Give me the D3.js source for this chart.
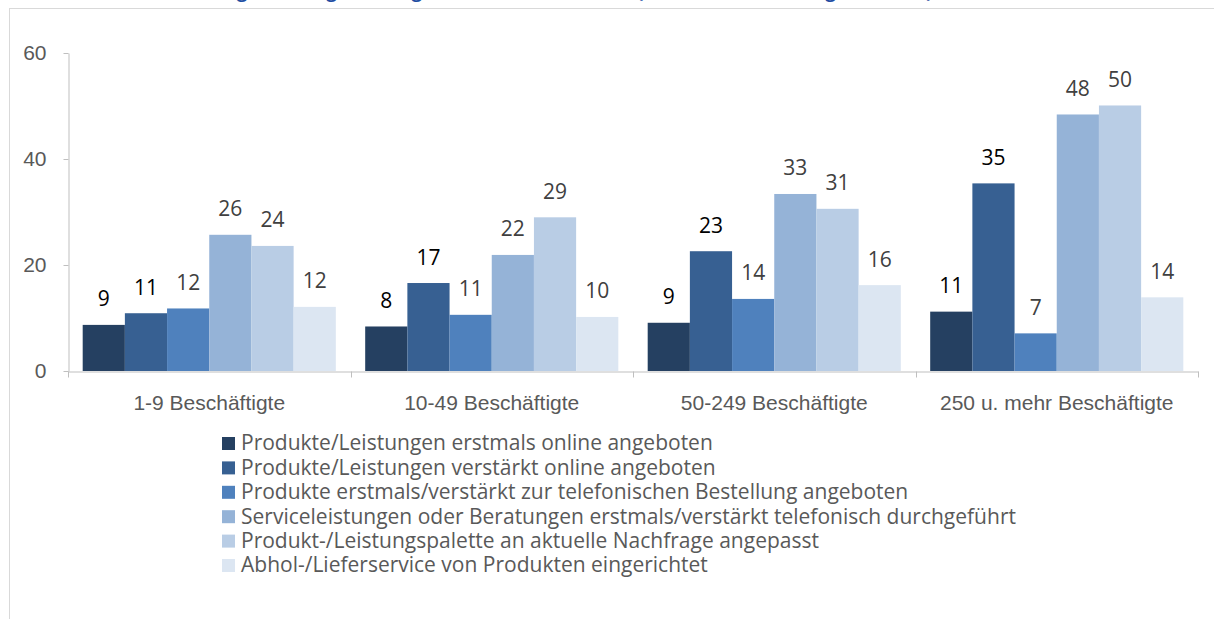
<!DOCTYPE html>
<html lang="de">
<head>
<meta charset="utf-8">
<script src="https://cdn.jsdelivr.net/npm/d3@7"></script>
<style>
  body { margin: 0; background: #fff; }
  svg { display: block; font-family: "Open Sans", Lato, sans-serif; }
</style>
</head>
<body>
<div id="chart"></div>
<script>
// Kategorien (Beschäftigtengrößenklassen)
const categories = ["1-9 Beschäftigte", "10-49 Beschäftigte", "50-249 Beschäftigte", "250 u. mehr Beschäftigte"];

// Reihen, Werte in Prozent je Größenklasse
const seriesNames = [
  "Produkte/Leistungen erstmals online angeboten",
  "Produkte/Leistungen verstärkt online angeboten",
  "Produkte erstmals/verstärkt zur telefonischen Bestellung angeboten",
  "Serviceleistungen oder Beratungen erstmals/verstärkt telefonisch durchgeführt",
  "Produkt-/Leistungspalette an aktuelle Nachfrage angepasst",
  "Abhol-/Lieferservice von Produkten eingerichtet"
];
const erstmalsOnline = [8.7, 8.4, 9.1, 11.2];
const verstaerktOnline = [10.9, 16.6, 22.6, 35.4];
const telefonBestellung = [11.8, 10.6, 13.6, 7.1];
const serviceTelefon = [25.7, 21.9, 33.4, 48.4];
const palette = [23.6, 29.0, 30.6, 50.1];
const abholLiefer = [12.1, 10.2, 16.2, 13.9];

const yTicks = [0, 20, 40, 60];

const seriesValues = [erstmalsOnline, verstaerktOnline, telefonBestellung, serviceTelefon, palette, abholLiefer];
const colors = ["#254061", "#376092", "#4f81bd", "#95b3d7", "#b9cde5", "#dce6f2"];
const labelColors = ["#000000", "#000000", "#404040", "#404040", "#404040", "#404040"];

(function () {
  let width = 1214,
    height = 619,
    fontSize = 21;

  let svg = d3.select("#chart")
    .append("svg")
    .attr("width", width)
    .attr("height", height);

  // Titel (oben abgeschnitten)
  svg.append("text")
    .attr("x", 130)
    .attr("y", -2)
    .attr("fill", "#1f4ea3")
    .attr("font-weight", "bold")
    .attr("font-size", 18)
    .text("Veränderungen im Angebot, Angaben der Unternehmen (Anteil nach Betriebsgröße, in %)");

  // Rahmen
  svg.append("rect")
    .attr("x", 9.5)
    .attr("y", 8.5)
    .attr("width", 1300)
    .attr("height", 700)
    .attr("fill", "none")
    .attr("stroke", "#d9d9d9");

  let x0 = d3.scaleBand()
    .domain(categories)
    .range([68, 1198])
    .paddingInner(0.104)
    .paddingOuter(0.052);

  let x1 = d3.scaleBand()
    .domain(d3.range(seriesNames.length))
    .range([0, x0.bandwidth()]);

  let y = d3.scaleLinear()
    .domain([0, 60])
    .range([371, 53]);

  // y-Achse
  let yAxis = svg.append("g")
    .attr("transform", "translate(68.5,0)")
    .call(d3.axisLeft(y).tickValues(yTicks).tickSize(5).tickSizeOuter(0).tickPadding(17));
  yAxis.select(".domain").attr("stroke", "#bfbfbf");
  yAxis.selectAll(".tick line").attr("stroke", "#bfbfbf");
  yAxis.selectAll(".tick text")
    .attr("fill", "#595959")
    .attr("font-size", fontSize)
    .attr("font-family", null);

  // Balken
  let groups = svg.append("g")
    .selectAll("g")
    .data(categories)
    .enter()
    .append("g")
    .attr("transform", d => `translate(${x0(d)},0)`);

  let bars = groups.selectAll("g")
    .data((d, ci) => seriesValues.map((vals, si) => ({ si: si, v: vals[ci] })))
    .enter()
    .append("g");

  bars.append("rect")
    .attr("x", d => x1(d.si))
    .attr("y", d => y(d.v))
    .attr("width", x1.bandwidth())
    .attr("height", d => y(0) - y(d.v))
    .attr("fill", d => colors[d.si]);

  bars.append("text")
    .attr("x", d => x1(d.si) + x1.bandwidth() / 2)
    .attr("y", d => y(d.v) - 18.5)
    .attr("text-anchor", "middle")
    .attr("font-size", fontSize)
    .attr("fill", d => labelColors[d.si])
    .text(d => d3.format(".0f")(d.v));

  // x-Achse
  let xAxis = svg.append("g")
    .attr("transform", "translate(0,371.5)")
    .call(d3.axisBottom(x0).tickSize(0).tickPadding(24));
  xAxis.select(".domain").attr("stroke", "#bfbfbf");
  xAxis.selectAll(".tick text")
    .attr("fill", "#595959")
    .attr("font-size", fontSize)
    .attr("font-family", null);

  let gap = x0.step() * x0.paddingInner() / 2;
  let bounds = categories.map(c => x0(c) - gap).concat([x0.range()[1]]);
  xAxis.selectAll(".bound")
    .data(bounds)
    .enter()
    .append("line")
    .attr("class", "bound")
    .attr("x1", d => Math.round(d) + 0.5)
    .attr("x2", d => Math.round(d) + 0.5)
    .attr("y1", 0)
    .attr("y2", 6)
    .attr("stroke", "#bfbfbf");

  // Legende
  let legend = svg.append("g")
    .attr("transform", "translate(222,443)")
    .selectAll("g")
    .data(seriesNames)
    .enter()
    .append("g")
    .attr("transform", (d, i) => `translate(0,${i * 24.4})`);

  legend.append("rect")
    .attr("x", 0)
    .attr("y", -6)
    .attr("width", 13)
    .attr("height", 13)
    .attr("fill", (d, i) => colors[i]);

  legend.append("text")
    .attr("x", 19)
    .attr("dy", "0.35em")
    .attr("font-size", fontSize)
    .attr("fill", "#595959")
    .text(d => d);
})();
</script>
</body>
</html>
